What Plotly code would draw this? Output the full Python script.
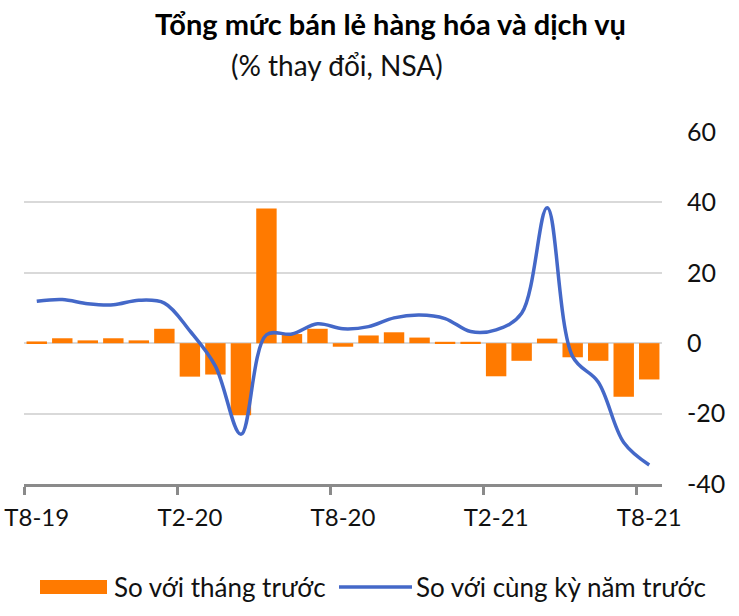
import plotly.graph_objects as go

# tháng T8-19 .. T8-21 (25 tháng)
month_idx = list(range(25))
tick_pos = [0, 6, 12, 18, 24]
tick_text = ["T8-19", "T2-20", "T8-20", "T2-21", "T8-21"]
y_ticks = [-40, -20, 0, 20, 40, 60]
y_text = ["-40", "-20", "0", "20", "40", "60"]

# So với tháng trước (%)
mom = [0.5, 1.4, 0.8, 1.4, 0.8, 4.1, -9.5, -8.9, -20.5, 38.3, 2.6, 4.1,
       -1.0, 2.2, 3.1, 1.6, 0.4, 0.4, -9.4, -5.0, 1.3, -4.0, -5.0, -15.2, -10.3]
# So với cùng kỳ năm trước (%)
yoy = [11.9, 12.4, 11.2, 10.9, 12.2, 11.4, 3.5, -6.5, -25.9, 2.4, 2.6, 5.5,
       4.1, 4.7, 7.2, 8.0, 7.0, 3.3, 3.8, 8.5, 38.5, -3.8, -11.0, -28.2, -34.6]

ORANGE = '#FF7A00'
BLUE = '#4468C8'
FONT = 'Lato'

fig = go.Figure()
fig.add_trace(go.Bar(x=month_idx, y=mom, marker=dict(color=ORANGE, line=dict(width=0)),
                     name='So với tháng trước'))
fig.add_trace(go.Scatter(x=month_idx, y=yoy, mode='lines', name='So với cùng kỳ năm trước',
                         line=dict(color=BLUE, width=3.5, shape='spline', smoothing=1.0)))

# helpers: pixel -> paper
L, R, T, B = 24, 77, 132, 132
W, H = 739, 616
pw, ph = W - L - R, H - T - B
px = lambda v: (v - L) / pw
py = lambda v: (H - B - v) / ph

fig.update_layout(
    width=W, height=H,
    margin=dict(l=L, r=R, t=T, b=B),
    plot_bgcolor='white', paper_bgcolor='white',
    showlegend=False,
    bargap=0.2,
    font=dict(family=FONT, size=24, color='#111111'),
    # nhãn ở giữa tháng, vạch chia ở ranh giới tháng
    xaxis=dict(range=[-0.5, 24.5], tickvals=tick_pos, ticktext=tick_text,
               ticks='', ticklabelstandoff=10,
               minor=dict(tick0=-0.5, dtick=6, ticks='outside', ticklen=8,
                          tickwidth=2.5, tickcolor='#8a8a8a', showgrid=False),
               showline=True, linecolor='#8a8a8a', linewidth=2.5,
               showgrid=False, zeroline=False, fixedrange=True, automargin=False,
               tickfont=dict(size=24)),
    yaxis=dict(side='right', range=[-40, 60], tickvals=y_ticks, ticktext=y_text, showgrid=True,
               gridcolor='#d9d9d9', gridwidth=2, zeroline=False, showline=False, automargin=False,
               ticks='', ticklabelstandoff=24, fixedrange=True, tickfont=dict(size=25)),
)

fig.add_annotation(text='<b>Tổng mức bán lẻ hàng hóa và dịch vụ</b>', xref='paper', yref='paper',
                   x=px(390), y=py(24), xanchor='center', yanchor='middle', showarrow=False,
                   font=dict(size=29, color='#000000'))
fig.add_annotation(text='(% thay đổi, NSA)', xref='paper', yref='paper',
                   x=px(337), y=py(65), xanchor='center', yanchor='middle', showarrow=False,
                   font=dict(size=28, color='#111111'))

# legend dưới biểu đồ
fig.add_shape(type='rect', xref='paper', yref='paper', x0=px(40), x1=px(107), y0=py(594), y1=py(580),
              fillcolor=ORANGE, line=dict(width=0))
fig.add_shape(type='line', xref='paper', yref='paper', x0=px(339), x1=px(412), y0=py(587), y1=py(587),
              line=dict(color=BLUE, width=3.5))
fig.add_annotation(text='So với tháng trước', xref='paper', yref='paper', x=px(112), y=py(587),
                   xanchor='left', yanchor='middle', showarrow=False, font=dict(size=26))
fig.add_annotation(text='So với cùng kỳ năm trước', xref='paper', yref='paper', x=px(414), y=py(587),
                   xanchor='left', yanchor='middle', showarrow=False, font=dict(size=26))

fig.write_html("out.html", config={'displayModeBar': False},
               post_script="document.body.style.margin='0';")
